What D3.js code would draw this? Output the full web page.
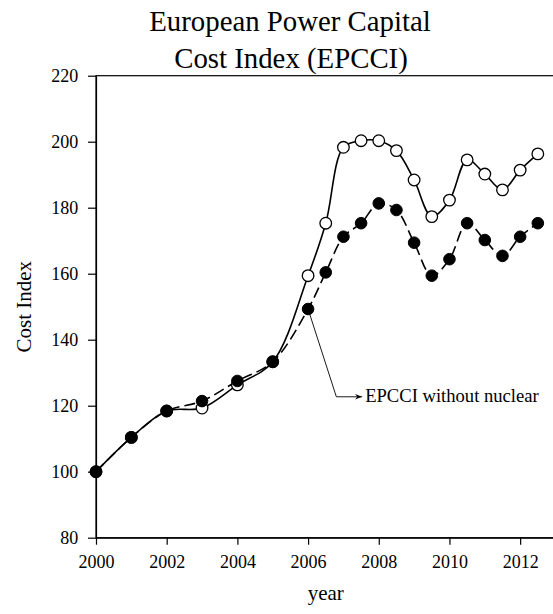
<!DOCTYPE html>
<html>
<head>
<meta charset="utf-8">
<script src="https://cdn.jsdelivr.net/npm/d3@7"></script>
<style>
  html, body { margin: 0; padding: 0; background: #fff; }
  svg { display: block; }
</style>
</head>
<body>
<svg id="chart" width="553" height="614"></svg>
<script>
// Sample years (half-year steps from 2006 on)
const years = [2000, 2001, 2002, 2003, 2004, 2005, 2006, 2006.5, 2007, 2007.5,
               2008, 2008.5, 2009, 2009.5, 2010, 2010.5, 2011, 2011.5, 2012, 2012.5];
// European Power Capital Cost Index
const epcci = [100, 110.4, 118.4, 119.3, 126.3, 133.3, 159.4, 175.3, 198.3, 200.3,
               200.3, 197.3, 188.4, 177.3, 182.3, 194.5, 190.2, 185.4, 191.4, 196.3];
// Same index excluding nuclear plants
const epcciNoNuclear = [100, 110.4, 118.4, 121.4, 127.5, 133.3, 149.3, 160.4, 171.2, 175.3,
                        181.3, 179.3, 169.4, 159.4, 164.4, 175.3, 170.2, 165.4, 171.2, 175.3];
const xTicks = [2000, 2002, 2004, 2006, 2008, 2010, 2012];
const yTicks = [80, 100, 120, 140, 160, 180, 200, 220];
const titleLines = ["European Power Capital", "Cost Index (EPCCI)"];
const calloutText = "EPCCI without nuclear";

const FONT = "'Liberation Serif', 'Times New Roman', serif";
const svg = d3.select("#chart");

const plotLeft = 96, plotRight = 555.5, plotTop = 75.7, plotBottom = 537.7;
const x = d3.scaleLinear().domain([2000, 2013]).range([plotLeft, plotRight]);
const y = d3.scaleLinear().domain([80, 220]).range([plotBottom, plotTop]);

// Title
svg.append("text")
  .attr("x", 290).attr("y", 30.5)
  .attr("text-anchor", "middle")
  .attr("font-family", FONT).attr("font-size", 28.8)
  .text(titleLines[0]);
svg.append("text")
  .attr("x", 291).attr("y", 68)
  .attr("text-anchor", "middle")
  .attr("font-family", FONT).attr("font-size", 28.8)
  .text(titleLines[1]);

// Frame (top and right edges)
svg.append("rect")
  .attr("x", plotLeft).attr("y", plotTop)
  .attr("width", plotRight - plotLeft).attr("height", plotBottom - plotTop)
  .attr("fill", "none").attr("stroke", "#000").attr("stroke-width", 1.2);

// Axes
const xAxis = svg.append("g")
  .attr("transform", `translate(0,${plotBottom})`)
  .call(d3.axisBottom(x).tickValues(xTicks).tickFormat(d3.format("d"))
    .tickSize(7).tickSizeOuter(0).tickPadding(11));
const yAxis = svg.append("g")
  .attr("transform", `translate(${plotLeft},0)`)
  .call(d3.axisLeft(y).tickValues(yTicks).tickFormat(d3.format("d"))
    .tickSize(8).tickSizeOuter(0).tickPadding(9.7));
[xAxis, yAxis].forEach(g => {
  g.attr("font-family", FONT).attr("font-size", 18);
  g.selectAll("path, line").attr("stroke", "#000").attr("stroke-width", 1.2);
  g.selectAll("text").attr("fill", "#000");
});

// Axis titles
svg.append("text")
  .attr("x", (plotLeft + plotRight) / 2).attr("y", 600)
  .attr("text-anchor", "middle")
  .attr("font-family", FONT).attr("font-size", 21)
  .text("year");
svg.append("text")
  .attr("transform", `translate(31,${(plotTop + plotBottom) / 2}) rotate(-90)`)
  .attr("text-anchor", "middle")
  .attr("font-family", FONT).attr("font-size", 21)
  .text("Cost Index");

// Series lines
const line = d3.line()
  .x(d => x(d[0])).y(d => y(d[1]))
  .curve(d3.curveCatmullRom.alpha(0.5));
const seriesA = years.map((yr, i) => [yr, epcci[i]]);
const seriesB = years.map((yr, i) => [yr, epcciNoNuclear[i]]);

svg.append("path").datum(seriesA)
  .attr("d", line).attr("fill", "none")
  .attr("stroke", "#000").attr("stroke-width", 1.6);
svg.append("path").datum(seriesB)
  .attr("d", line).attr("fill", "none")
  .attr("stroke", "#000").attr("stroke-width", 1.6)
  .attr("stroke-dasharray", "11,5");

// Markers: open circles for EPCCI, filled for the non-nuclear index
svg.append("g").selectAll("circle").data(seriesA).join("circle")
  .attr("cx", d => x(d[0])).attr("cy", d => y(d[1])).attr("r", 5.8)
  .attr("fill", "#fff").attr("stroke", "#000").attr("stroke-width", 1.3);
svg.append("g").selectAll("circle").data(seriesB).join("circle")
  .attr("cx", d => x(d[0])).attr("cy", d => y(d[1])).attr("r", 5.8)
  .attr("fill", "#000").attr("stroke", "#000").attr("stroke-width", 1);

// Callout pointing at the 2006 non-nuclear point
const anchor = seriesB[years.indexOf(2006)];
const elbow = [2006.8, 122.7];
const tip = [2007.53, 122.7];
svg.append("defs").append("marker")
  .attr("id", "arrow").attr("viewBox", "0 0 10 10")
  .attr("refX", 10).attr("refY", 5)
  .attr("markerWidth", 7).attr("markerHeight", 7)
  .attr("markerUnits", "userSpaceOnUse")
  .attr("orient", "auto")
  .append("path").attr("d", "M0,1 L10,5 L0,9 L3,5 Z").attr("fill", "#000");
svg.append("path")
  .attr("d", d3.line()([[x(anchor[0]), y(anchor[1])], [x(elbow[0]), y(elbow[1])], [x(tip[0]), y(tip[1])]]))
  .attr("fill", "none").attr("stroke", "#000").attr("stroke-width", 0.9)
  .attr("marker-end", "url(#arrow)");
svg.append("text")
  .attr("x", x(tip[0]) + 3).attr("y", y(tip[1]) + 5)
  .attr("font-family", FONT).attr("font-size", 18.6)
  .text(calloutText);
</script>
</body>
</html>
